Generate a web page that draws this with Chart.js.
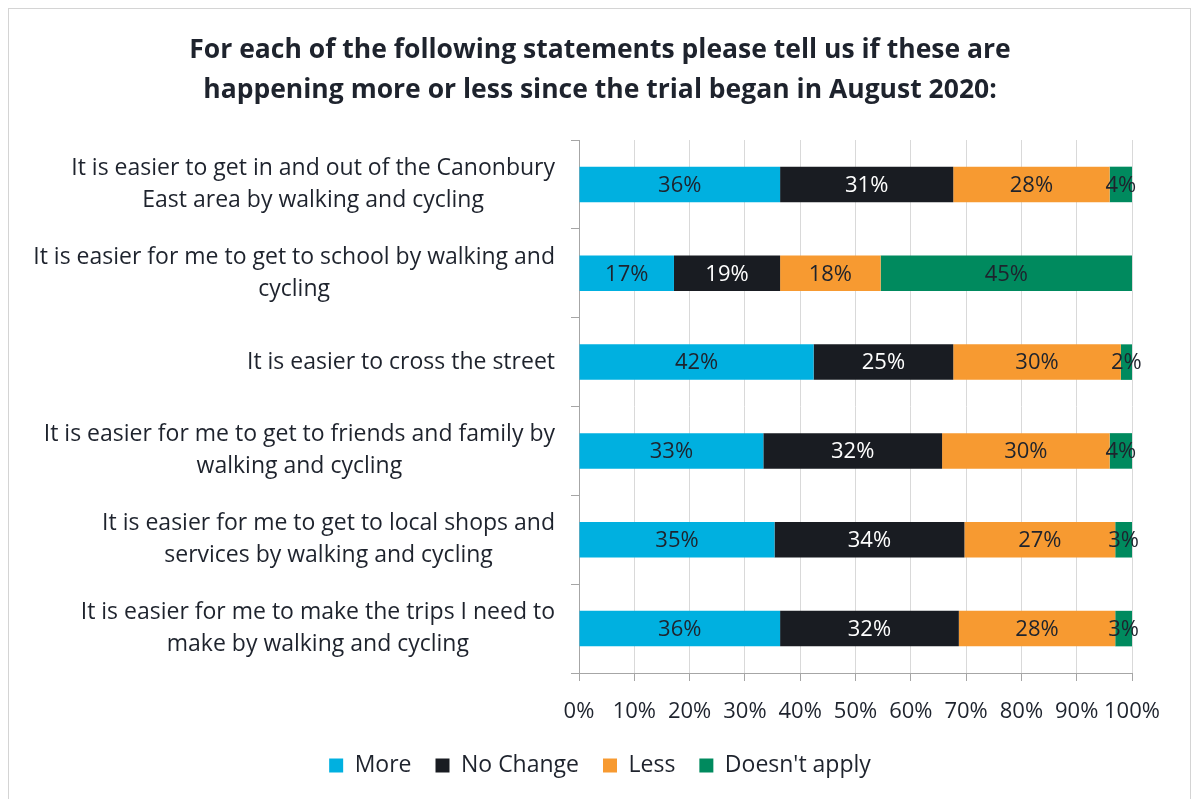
<!DOCTYPE html>
<html>
<head>
<meta charset="utf-8">
<script src="https://cdn.jsdelivr.net/npm/chart.js@4.4.0/dist/chart.umd.min.js"></script>
<style>
  html, body { margin: 0; padding: 0; background: #fff; overflow: hidden; }
  #frame { position: absolute; left: 8px; top: 8px; width: 1181px; height: 820px; border: 1px solid #d4d4d4; }
  #wrap { position: absolute; left: 0; top: 0; width: 1191px; height: 799px; }
</style>
</head>
<body>
<div id="frame"></div>
<div id="wrap"><canvas id="chart"></canvas></div>
<script>
// Survey statements (one bar each) and answers, as counts in %
const categories = [
    ['It is easier to get in and out of the Canonbury', 'East area by walking and cycling'],
    ['It is easier for me to get to school by walking and', 'cycling'],
    ['It is easier to cross the street'],
    ['It is easier for me to get to friends and family by', 'walking and cycling'],
    ['It is easier for me to get to local shops and', 'services by walking and cycling'],
    ['It is easier for me to make the trips I need to', 'make by walking and cycling']
];
const seriesNames = ['More', 'No Change', 'Less', "Doesn't apply"];
const moreValues = [36, 17, 42, 33, 35, 36];
const noChangeValues = [31, 19, 25, 32, 34, 32];
const lessValues = [28, 18, 30, 30, 27, 28];
const notApplyValues = [4, 45, 2, 4, 3, 3];
const xTicks = [0, 10, 20, 30, 40, 50, 60, 70, 80, 90, 100];

const seriesColors = ['#00b0e0', '#191c22', '#f79a31', '#008a5e'];
const labelColors = ['#1e232d', '#ffffff', '#1e232d', '#1e232d'];
const textColor = '#1e232d';
const fontFamily = '"Open Sans", sans-serif';

const allValues = [moreValues, noChangeValues, lessValues, notApplyValues];

// 100% stacked: each row is drawn as share of its own total
const rowTotals = categories.map((c, i) => allValues.reduce((s, arr) => s + arr[i], 0));

const datasets = allValues.map((vals, k) => ({
    label: seriesNames[k],
    data: vals.map((v, i) => v / rowTotals[i] * 100),
    rawValues: vals,
    backgroundColor: seriesColors[k],
    borderWidth: 0,
    categoryPercentage: 0.8,
    barPercentage: 0.5
}));

// value labels inside every segment
const segmentLabels = {
    id: 'segmentLabels',
    afterDatasetsDraw(chart) {
        const ctx = chart.ctx;
        ctx.save();
        ctx.font = '22px ' + fontFamily;
        ctx.textAlign = 'center';
        ctx.textBaseline = 'middle';
        chart.data.datasets.forEach((ds, k) => {
            const meta = chart.getDatasetMeta(k);
            meta.data.forEach((bar, i) => {
                const x = (bar.x + bar.base) / 2;
                ctx.fillStyle = labelColors[k];
                ctx.fillText(ds.rawValues[i] + '%', x, bar.y + 1);
            });
        });
        ctx.restore();
    }
};

// category labels: right-aligned block, lines centred inside it
const categoryLabels = {
    id: 'categoryLabels',
    afterDraw(chart) {
        const ctx = chart.ctx;
        const yScale = chart.scales.y;
        const right = yScale.right - 24;
        ctx.save();
        ctx.font = '23px ' + fontFamily;
        ctx.fillStyle = textColor;
        ctx.textAlign = 'center';
        ctx.textBaseline = 'middle';
        categories.forEach((lines, i) => {
            const cy = yScale.getPixelForValue(i);
            const w = Math.max(...lines.map(l => ctx.measureText(l).width));
            const cx = right - w / 2;
            lines.forEach((line, j) => {
                ctx.fillText(line, cx, cy + (j - (lines.length - 1) / 2) * 32);
            });
        });
        ctx.restore();
    }
};

const ctx = document.getElementById('chart').getContext('2d');
new Chart(ctx, {
    type: 'bar',
    data: {
        labels: categories,
        datasets: datasets
    },
    options: {
        indexAxis: 'y',
        responsive: true,
        maintainAspectRatio: false,
        animation: false,
        layout: {
            padding: { left: 68, right: 59, top: 8, bottom: 12 }
        },
        scales: {
            x: {
                stacked: true,
                min: 0,
                max: 100,
                afterBuildTicks: scale => { scale.ticks = xTicks.map(v => ({ value: v })); },
                afterFit: scale => { scale.height = 57; },
                ticks: {
                    callback: v => v + '%',
                    color: textColor,
                    font: { family: fontFamily, size: 22 },
                    padding: 18,
                    maxRotation: 0,
                    autoSkip: false
                },
                grid: {
                    color: '#d9d9d9',
                    tickColor: '#a6a6a6',
                    tickLength: 8,
                    lineWidth: 1
                },
                border: { color: '#a6a6a6' }
            },
            y: {
                stacked: true,
                afterFit: scale => { scale.width = 579 - 68; },
                ticks: { display: false },
                grid: {
                    offset: true,
                    drawOnChartArea: false,
                    color: '#a6a6a6',
                    tickLength: 8
                },
                border: { color: '#a6a6a6' }
            }
        },
        plugins: {
            title: {
                display: true,
                text: ['For each of the following statements please tell us if these are',
                       'happening more or less since the trial began in August 2020:'],
                color: textColor,
                font: { family: fontFamily, size: 26.5, weight: 'bold', lineHeight: 1.51 },
                padding: { top: 22, bottom: 30 }
            },
            legend: {
                position: 'bottom',
                labels: {
                    color: textColor,
                    font: { family: fontFamily, size: 23 },
                    boxWidth: 14,
                    boxHeight: 14,
                    padding: 24
                }
            },
            tooltip: { enabled: false }
        }
    },
    plugins: [segmentLabels, categoryLabels]
});
</script>
</body>
</html>
